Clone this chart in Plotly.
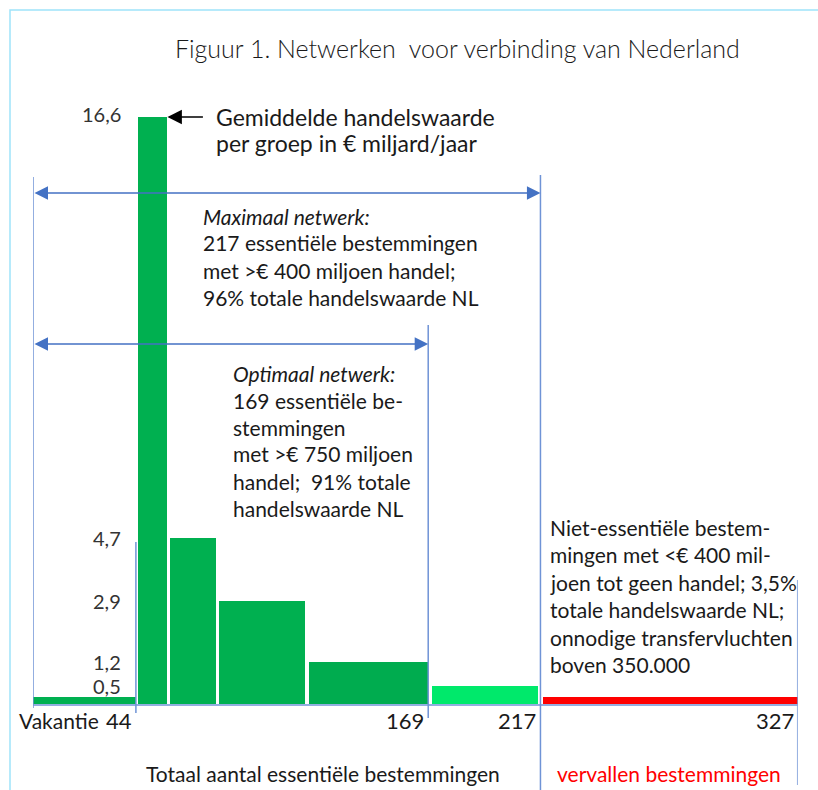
import plotly.graph_objects as go

# ---------------- data ----------------
groups = ["Vakantie", "Groep 1", "Groep 2", "Groep 3", "Groep 4", "Groep 5", "Vervallen"]
group_start = [0, 45, 58.5, 79.5, 118, 170.5, 218]
group_end = [44, 57.3, 78.3, 116.5, 169, 216, 327]
handelswaarde = [0.2, 16.6, 4.7, 2.9, 1.2, 0.5, 0.2]
value_labels = ["16,6", "4,7", "2,9", "1,2", "0,5"]
value_label_y = [16.6, 4.7, 2.9, 1.2, 0.5]
x_ticks = [44, 169, 217, 327]
x_tick_text = ["44", "169", "217", "327"]

bar_colors = ["#00b050", "#00b050", "#00b050", "#00b050", "#00ac4f", "#00e96b", "#ff0000"]

W, H = 818, 790
X0_PX, X1_PX = 33, 797.7
XMAX = 327
BASE_PX, TOP_PX, TOP_VAL = 704, 117, 16.6
scale = (BASE_PX - TOP_PX) / TOP_VAL
ymin = -(H - BASE_PX) / scale
ymax = BASE_PX / scale


def px(x):
    return x / W


def py(y):
    return 1 - y / H


def yval(ypx):
    return (BASE_PX - ypx) / scale


FONT = "Lato"
centers = [(s + e) / 2 for s, e in zip(group_start, group_end)]
widths = [e - s for s, e in zip(group_start, group_end)]

fig = go.Figure()
fig.add_trace(go.Bar(
    x=centers, y=handelswaarde, width=widths, base=0,
    marker=dict(color=bar_colors, line=dict(width=0)),
    text=groups, textposition="none", hoverinfo="text+y",
))

shapes = []
# outer light frame
shapes.append(dict(type="rect", xref="paper", yref="paper",
                   x0=px(10), x1=px(840), y0=py(10), y1=py(820),
                   line=dict(color="#9fe3fa", width=1.5), fillcolor="rgba(0,0,0,0)", layer="below"))
# baseline
shapes.append(dict(type="line", xref="x", yref="y", x0=0, x1=XMAX, y0=-0.03, y1=-0.03,
                   line=dict(color="#6f93d6", width=1.5)))
# vertical guide lines (x in data, extents in px)
guides = [(0, 177, 708), (44, 542, 713), (169, 325, 718), (217, 175, 790), (327, 580, 785)]
for gx, t, b in guides:
    shapes.append(dict(type="line", xref="x", yref="y", x0=gx, x1=gx, y0=yval(t), y1=yval(b),
                       line=dict(color="#6f93d6", width=1.5)))

ann = []


def txt(text, x, y, size=21, color="#1a1a1a", anchor="left", italic=False, weight=None):
    f = dict(family=FONT, size=size, color=color)
    if italic:
        f["style"] = "italic"
    if weight:
        f["weight"] = weight
    ann.append(dict(text=text, xref="paper", yref="paper", x=px(x), y=py(y),
                    xanchor=anchor, yanchor="middle", showarrow=False, font=f))


# title
txt("Figuur 1. Netwerken  voor verbinding van Nederland", 457, 48, size=25, anchor="center", weight=300, color="#1a1a1a")
# note
txt("Gemiddelde handelswaarde", 214, 117, size=23)
txt("per groep in € miljard/jaar", 214, 143, size=23)
# maximal network
max_lines = ["217 essentiële bestemmingen", "met >€ 400 miljoen handel;", "96% totale handelswaarde NL"]
txt("Maximaal netwerk:", 201, 216, size=21, italic=True)
for i, l in enumerate(max_lines):
    txt(l, 201, 243 + 27 * i, size=21)
# optimal network
opt_lines = ["169 essentiële be-", "stemmingen", "met >€ 750 miljoen", "handel;  91% totale", "handelswaarde NL"]
txt("Optimaal netwerk:", 231, 373, size=21, italic=True)
for i, l in enumerate(opt_lines):
    txt(l, 231, 400 + 27 * i, size=21)
# non-essential
ne_lines = ["Niet-essentiële bestem-", "mingen met <€ 400 mil-", "joen tot geen handel; 3,5%",
            "totale handelswaarde NL;", "onnodige transfervluchten", "boven 350.000"]
for i, l in enumerate(ne_lines):
    txt(l, 548, 527 + 27.5 * i, size=21)

# bottom labels
txt("Vakantie", 17, 720, size=21)
txt("Totaal aantal essentiële bestemmingen", 144, 773, size=21)
txt("vervallen bestemmingen", 555, 773, size=21, color="#ff0000")

# x tick labels (positioned at data values)
for v, t in zip(x_ticks, x_tick_text):
    ann.append(dict(text=t, xref="x", yref="paper", x=v, y=py(720), xanchor="right", yanchor="middle",
                    xshift=-2, showarrow=False, font=dict(family=FONT, size=22, color="#1a1a1a")))

# value labels (positioned at data values)
for v, t in zip(value_label_y, value_labels):
    ann.append(dict(text=t, xref="paper", yref="y", x=px(123), y=v, xanchor="right", yanchor="middle",
                    yshift=3 if v > 10 else 0, showarrow=False,
                    font=dict(family=FONT, size=20, color="#333333")))

# black arrow to top bar
ann.append(dict(text="", xref="x", yref="y", axref="x", ayref="y",
                x=group_end[1] + 0.2, y=handelswaarde[1], ax=group_end[1] + 16, ay=handelswaarde[1],
                showarrow=True, arrowhead=2, arrowsize=1.8, arrowwidth=1.6, arrowcolor="#000000"))
# double arrows for networks
for xr, ypx_ in [(217, 193), (169, 344)]:
    ann.append(dict(text="", xref="x", yref="y", axref="x", ayref="y",
                    x=xr, y=yval(ypx_), ax=0, ay=yval(ypx_),
                    showarrow=True, arrowside="end+start", arrowhead=2, startarrowhead=2,
                    arrowsize=1.8, startarrowsize=1.8, arrowwidth=1.5, arrowcolor="#4472c4"))

fig.update_layout(
    width=W, height=H, margin=dict(l=0, r=0, t=0, b=0),
    paper_bgcolor="white", plot_bgcolor="rgba(0,0,0,0)",
    showlegend=False, bargap=0,
    xaxis=dict(range=[0, XMAX], domain=[X0_PX / W, X1_PX / W], visible=False, fixedrange=True),
    yaxis=dict(range=[ymin, ymax], domain=[0, 1], visible=False, fixedrange=True),
    shapes=shapes, annotations=ann,
)

fig.write_html("out.html", config={"displayModeBar": False},
               post_script="document.body.style.margin='0';document.body.style.overflow='hidden';")
